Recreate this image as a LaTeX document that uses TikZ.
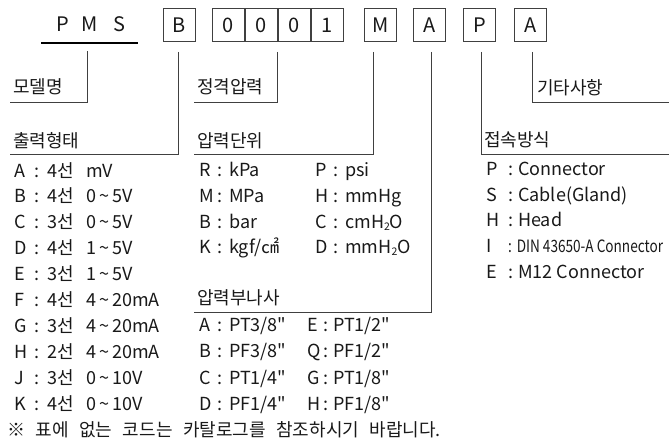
\documentclass[tikz,border=0pt]{standalone}
\usepackage{fontspec}
\setmainfont{Noto Sans CJK KR}[Ligatures=TeXOff]
\newcommand\myfs{\fontsize{18}{21}\selectfont}
\newcommand\boxfs{\fontsize{20}{24}\selectfont}
\newcommand\mytilde{\,\textasciitilde\,}
\newcommand\subtwo{\raisebox{-2.5pt}{\fontsize{10.5}{10}\selectfont 2}}
\newcommand\rowA[3]{\makebox[20pt][l]{#1}\makebox[13pt][l]{:}\makebox[39pt][l]{#2}#3}
\newcommand\rowB[2]{\makebox[18pt][l]{#1}\makebox[12pt][l]{:}#2}
\newcommand\rowC[2]{\makebox[16pt][l]{#1}\makebox[10pt][l]{:}#2}
\newcommand\rowD[2]{\makebox[22pt][l]{#1}\makebox[10pt][l]{:}#2}
\begin{document}
\begin{tikzpicture}[x=1pt,y=-1pt,
  ln/.style={draw=black!75,line width=0.8pt},
  cbox/.style={draw=black!75,line width=0.8pt,minimum width=32pt,minimum height=33pt,inner sep=0pt,font=\boxfs,anchor=north west,text=black!90},
  txt/.style={anchor=base west,inner sep=0pt,font=\myfs,text=black!90}]
\useasboundingbox[fill=white] (0,0) rectangle (669,447);

% code boxes
\node[inner sep=0pt,font=\boxfs,text=black!90] (pms) at (91,24) {P\hspace{13pt}M\hspace{16pt}S};
\coordinate (ulL) at (41,43);
\coordinate (ulR) at (138,43);
\draw[line width=2.6pt] (ulL) -- (ulR);
\node[cbox] (bB) at (163,8) {B};
\node[cbox] (c1) at (212,8) {0};
\node[cbox] (c2) at (245,8) {0};
\node[cbox] (c3) at (278,8) {0};
\node[cbox] (c4) at (311,8) {1};
\node[cbox] (bM) at (364,8) {M};
\node[cbox] (bA) at (413,8) {A};
\node[cbox] (bP) at (463,8) {P};
\node[cbox] (bE) at (514,8) {A};

% line ends
\coordinate (pmsdrop) at (87,51);
\coordinate (eModel) at (10,102);
\coordinate (eOut) at (10,154);
\coordinate (ePress) at (194,102);
\coordinate (eUnit) at (194,154);
\coordinate (ePort) at (194,312);
\coordinate (eConn) at (669,154);
\coordinate (eEtc) at (669,102);

% connectors
\draw[ln] (pmsdrop) |- (eModel);
\draw[ln] ([xshift=-1pt,yshift=-10pt]bB.south) |- (eOut);
\draw[ln] ([yshift=-10pt]c2.south east) |- (ePress);
\draw[ln] ([xshift=-7pt,yshift=-10pt]bM.south) |- (eUnit);
\draw[ln] ([xshift=2pt,yshift=-10pt]bA.south) |- (ePort);
\draw[ln] ([xshift=2pt,yshift=-10pt]bP.south) |- (eConn);
\draw[ln] ([xshift=2pt,yshift=-10pt]bE.south) |- (eEtc);

% labels
\node[txt] (tModel) at (13,93) {모델명};
\node[txt] (tOut) at (13,147) {출력형태};
\node[txt] (tPress) at (197,93) {정격압력};
\node[txt] (tUnit) at (197,147) {압력단위};
\node[txt] (tPort) at (197,304) {압력부나사};
\node[txt] (tConn) at (484,146) {접속방식};
\node[txt] (tEtc) at (537,94) {기타사항};

% output types
\node[txt] (o1) at (14,177) {\rowA{A}{4선}{mV}};
\node[txt] (o2) at (14,202.9) {\rowA{B}{4선}{0\mytilde 5V}};
\node[txt] (o3) at (14,228.8) {\rowA{C}{3선}{0\mytilde 5V}};
\node[txt] (o4) at (14,254.7) {\rowA{D}{4선}{1\mytilde 5V}};
\node[txt] (o5) at (14,280.6) {\rowA{E}{3선}{1\mytilde 5V}};
\node[txt] (o6) at (14,306.5) {\rowA{F}{4선}{4\mytilde 20mA}};
\node[txt] (o7) at (14,332.4) {\rowA{G}{3선}{4\mytilde 20mA}};
\node[txt] (o8) at (14,358.3) {\rowA{H}{2선}{4\mytilde 20mA}};
\node[txt] (o9) at (14,384.2) {\rowA{J}{3선}{0\mytilde 10V}};
\node[txt] (o10) at (14,410.1) {\rowA{K}{4선}{0\mytilde 10V}};

% pressure units
\node[txt] (u1) at (199,176) {\rowB{R}{kPa}};
\node[txt] (u2) at (199,202) {\rowB{M}{MPa}};
\node[txt] (u3) at (199,228) {\rowB{B}{bar}};
\node[txt] (u4) at (199,253) {\rowB{K}{kgf/㎠}};
\node[txt] (u5) at (315,176) {\rowB{P}{psi}};
\node[txt] (u6) at (315,202) {\rowB{H}{mmHg}};
\node[txt] (u7) at (315,228) {\rowB{C}{cmH\subtwo O}};
\node[txt] (u8) at (315,253) {\rowB{D}{mmH\subtwo O}};

% ports
\node[txt] (p1) at (199,331) {\rowB{A}{PT3/8"}};
\node[txt] (p2) at (199,357) {\rowB{B}{PF3/8"}};
\node[txt] (p3) at (199,384) {\rowB{C}{PT1/4"}};
\node[txt] (p4) at (199,410) {\rowB{D}{PF1/4"}};
\node[txt] (p5) at (307,331) {\rowC{E}{PT1/2"}};
\node[txt] (p6) at (307,357) {\rowC{Q}{PF1/2"}};
\node[txt] (p7) at (307,384) {\rowC{G}{PT1/8"}};
\node[txt] (p8) at (307,410) {\rowC{H}{PF1/8"}};

% connection types
\node[txt] (k1) at (486,175) {\rowD{P}{Connector}};
\node[txt] (k2) at (486,201) {\rowD{S}{Cable(Gland)}};
\node[txt] (k3) at (486,226) {\rowD{H}{Head}};
\node[txt] (k4) at (486,252) {\makebox[22pt][l]{I}\scalebox{0.8}[1]{\fontsize{17}{18}\selectfont :\hspace{6pt}DIN 43650-A Connector}};
\node[txt] (k5) at (486,278) {\rowD{E}{M12\hspace{4pt}Connector}};

% note
\node[txt] (note) at (7,436) {\spaceskip=10.5pt\relax ※ 표에 없는 코드는 카탈로그를 참조하시기 바랍니다.};
\end{tikzpicture}
\end{document}
